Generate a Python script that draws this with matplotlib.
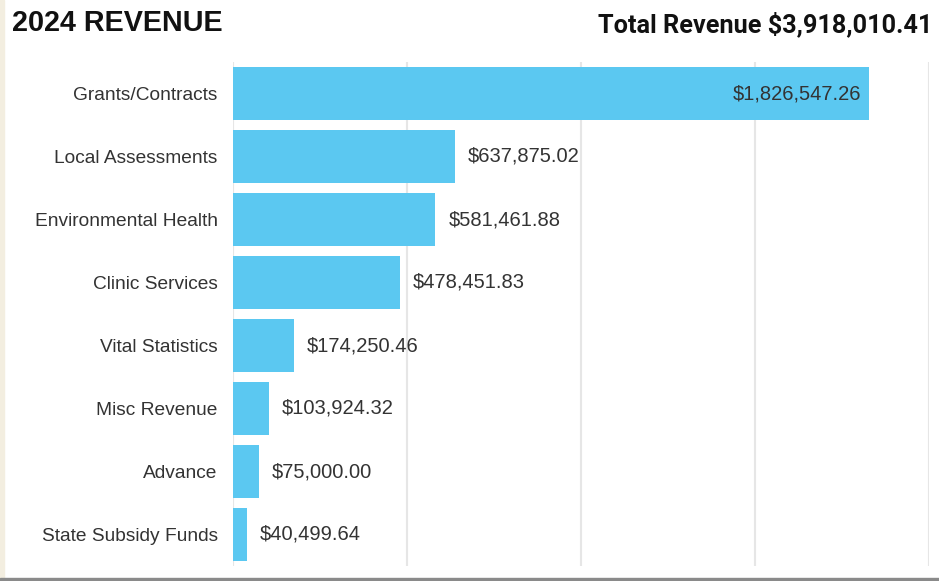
import matplotlib
matplotlib.use("Agg")
import matplotlib.pyplot as plt
from matplotlib.patches import Rectangle

categories = ["Grants/Contracts", "Local Assessments", "Environmental Health",
              "Clinic Services", "Vital Statistics", "Misc Revenue", "Advance",
              "State Subsidy Funds"]
values = [1826547.26, 637875.02, 581461.88, 478451.83, 174250.46, 103924.32,
          75000.00, 40499.64]
title = "2024 REVENUE"
total_text = "Total Revenue $3,918,010.41"
xticks = [0, 500000, 1000000, 1500000, 2000000]

bar_color = "#5BC8F1"
text_color = "#333333"
px = 2000000 / 696  # data units per pixel

fig = plt.figure(figsize=(9.39, 5.81), dpi=100)
fig.patch.set_facecolor("white")
ax = fig.add_axes([233/939, 15/581, 696/939, 504/581])

y = list(range(len(categories)))
ax.barh(y, values, height=0.83, color=bar_color, zorder=2)
ax.set_ylim(len(categories) - 0.5, -0.5)
ax.set_xlim(0, xticks[-1])
ax.set_xticks(xticks)
ax.set_xticklabels([])
ax.set_yticks(y)
ax.set_yticklabels(categories, fontsize=13.8, color=text_color,
                   fontfamily="Liberation Sans")
ax.tick_params(axis="both", length=0, pad=11)
ax.grid(axis="x", color="#e6e6e6", linewidth=1.5, zorder=0)
for s in ax.spines.values():
    s.set_visible(False)

for i, v in enumerate(values):
    lab = "${:,.2f}".format(v)
    if v > 1000000:
        ax.text(v - 7 * px, i, lab, ha="right", va="center", fontsize=14.5,
                color=text_color, fontfamily="Liberation Sans", zorder=3)
    else:
        ax.text(v + 13 * px, i, lab, ha="left", va="center", fontsize=14.5,
                color=text_color, fontfamily="Liberation Sans", zorder=3)

fig.text(12/939, 1 - 23/581, title, fontsize=20.7, fontweight="bold",
         color="#111111", va="center", ha="left", fontfamily="Liberation Sans")
fig.text(932/939, 1 - 24/581, total_text, fontsize=18.2, fontweight="bold",
         color="#111111", va="center", ha="right", fontfamily="Roboto")

# frame edges of the screenshot
fig.patches.append(Rectangle((0, 0), 4/939, 1, transform=fig.transFigure,
                             color="#f3eee0", zorder=0))
fig.patches.append(Rectangle((0, 0), 1, 3/581, transform=fig.transFigure,
                             color="#8a8a8a", zorder=0))

fig.savefig("out.png", dpi=100, facecolor="white")
